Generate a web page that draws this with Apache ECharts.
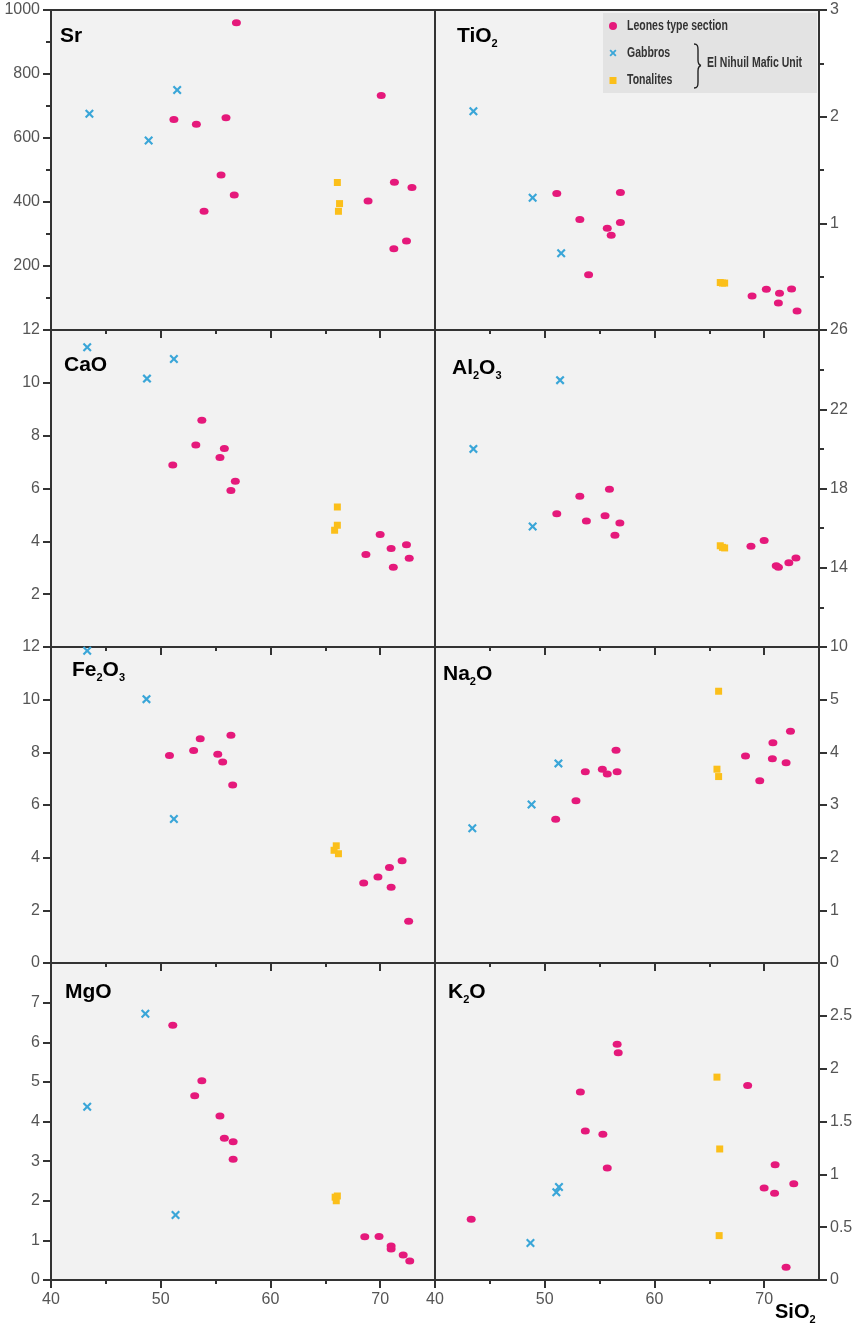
<!DOCTYPE html>
<html>
<head>
<meta charset="utf-8">
<title>Harker diagrams – Leones type section and El Nihuil Mafic Unit</title>
<script src="https://cdn.jsdelivr.net/npm/echarts@6/dist/echarts.min.js"></script>
<style>
  html, body { margin: 0; padding: 0; background: #ffffff; }
  #chart { width: 859px; height: 1329px; }
</style>
</head>
<body>
<div id="chart"></div>
<script>
// ---------------------------------------------------------------------------
// SiO2 (wt%) axis, shared by every panel
const sio2Major = [40, 50, 60, 70];
const sio2Minor = [45, 55, 65];
const sio2Labels = [40, 50, 60, 70];

// Series names
const groupNames = ['Leones type section', 'Gabbros', 'Tonalites'];
const groupCaption = 'El Nihuil Mafic Unit';

// --- Sr (ppm) ---------------------------------------------------------------
const srLeones = [[51.2, 658], [53.25, 643], [55.95, 663], [56.9, 960], [53.95, 371], [55.5, 484], [56.7, 422], [70.1, 733], [68.9, 403], [71.3, 462], [72.9, 445], [71.25, 254], [72.4, 278]];
const srGabbros = [[43.5, 676], [48.9, 592], [51.5, 750]];
const srTonalites = [[66.1, 461], [66.2, 371], [66.3, 395]];
const srTicks = [0, 200, 400, 600, 800, 1000];
const srMinorTicks = [100, 300, 500, 700, 900];
const srLabels = [200, 400, 600, 800, 1000];

// --- TiO2 (wt%) -------------------------------------------------------------
const tio2Leones = [[51.1, 1.28], [56.9, 1.29], [53.2, 1.035], [55.7, 0.953], [56.06, 0.889], [56.9, 1.007], [54.0, 0.517], [68.9, 0.319], [70.2, 0.382], [71.4, 0.344], [72.5, 0.385], [71.3, 0.253], [73.0, 0.177]];
const tio2Gabbros = [[43.5, 2.05], [48.9, 1.24], [51.5, 0.72]];
const tio2Tonalites = [[66.0, 0.445], [66.2, 0.44], [66.4, 0.44]];
const tio2Ticks = [0, 1, 2, 3];
const tio2MinorTicks = [0.5, 1.5, 2.5];
const tio2Labels = [1, 2, 3];

// --- CaO (wt%) --------------------------------------------------------------
const caoLeones = [[51.1, 6.89], [53.2, 7.65], [53.75, 8.58], [55.4, 7.17], [55.8, 7.51], [56.4, 5.92], [56.8, 6.27], [68.7, 3.50], [70.0, 4.26], [71.0, 3.73], [71.2, 3.02], [72.4, 3.87], [72.65, 3.36]];
const caoGabbros = [[43.3, 11.35], [48.75, 10.16], [51.2, 10.9]];
const caoTonalites = [[66.1, 5.30], [66.1, 4.61], [65.85, 4.42]];
const caoTicks = [0, 2, 4, 6, 8, 10, 12];
const caoLabels = [2, 4, 6, 8, 10, 12];

// --- Al2O3 (wt%) ------------------------------------------------------------
const al2o3Leones = [[51.1, 16.72], [53.2, 17.61], [53.8, 16.36], [55.9, 17.96], [55.5, 16.63], [56.85, 16.26], [56.4, 15.64], [68.8, 15.08], [70.0, 15.37], [71.1, 14.10], [71.3, 14.03], [72.25, 14.25], [72.9, 14.49]];
const al2o3Gabbros = [[51.4, 23.47], [43.5, 20.0], [48.9, 16.08]];
const al2o3Tonalites = [[66.0, 15.11], [66.4, 15.0], [66.2, 15.03]];
const al2o3Ticks = [10, 14, 18, 22, 26];
const al2o3MinorTicks = [12, 16, 20, 24];
const al2o3Labels = [10, 14, 18, 22, 26];

// --- Fe2O3 (wt%) ------------------------------------------------------------
const fe2o3Leones = [[50.8, 7.88], [53.0, 8.07], [53.6, 8.52], [55.2, 7.93], [55.65, 7.63], [56.4, 8.65], [56.56, 6.76], [68.5, 3.04], [69.8, 3.27], [70.85, 3.63], [71.0, 2.88], [72.0, 3.88], [72.6, 1.59]];
const fe2o3Gabbros = [[43.3, 11.86], [48.7, 10.02], [51.2, 5.47]];
const fe2o3Tonalites = [[66.0, 4.45], [66.2, 4.15], [65.8, 4.28]];
const fe2o3Ticks = [0, 2, 4, 6, 8, 10, 12];
const fe2o3Labels = [0, 2, 4, 6, 8, 10, 12];

// --- Na2O (wt%) -------------------------------------------------------------
const na2oLeones = [[51.0, 2.73], [52.85, 3.08], [53.7, 3.63], [55.25, 3.68], [55.7, 3.59], [56.5, 4.04], [56.6, 3.63], [68.3, 3.93], [69.6, 3.46], [70.8, 4.18], [70.75, 3.88], [72.0, 3.80], [72.4, 4.40]];
const na2oGabbros = [[43.4, 2.56], [48.8, 3.01], [51.25, 3.79]];
const na2oTonalites = [[65.85, 5.16], [65.7, 3.68], [65.85, 3.54]];
const na2oTicks = [0, 1, 2, 3, 4, 5, 6];
const na2oLabels = [0, 1, 2, 3, 4, 5];

// --- MgO (wt%) --------------------------------------------------------------
const mgoLeones = [[51.1, 6.43], [53.75, 5.03], [53.1, 4.65], [55.4, 4.14], [55.8, 3.58], [56.6, 3.49], [56.6, 3.05], [68.6, 1.09], [69.9, 1.10], [71.0, 0.86], [71.0, 0.78], [72.1, 0.63], [72.7, 0.48]];
const mgoGabbros = [[48.6, 6.72], [43.3, 4.37], [51.35, 1.64]];
const mgoTonalites = [[65.9, 2.09], [66.1, 2.12], [66.0, 2.0]];
const mgoTicks = [0, 1, 2, 3, 4, 5, 6, 7, 8];
const mgoLabels = [0, 1, 2, 3, 4, 5, 6, 7];

// --- K2O (wt%) --------------------------------------------------------------
const k2oLeones = [[43.3, 0.575], [53.25, 1.78], [53.7, 1.41], [55.3, 1.38], [55.7, 1.06], [56.6, 2.23], [56.7, 2.15], [68.5, 1.84], [70.0, 0.87], [71.0, 1.09], [70.95, 0.82], [72.7, 0.91], [72.0, 0.12]];
const k2oGabbros = [[48.7, 0.35], [51.06, 0.83], [51.3, 0.88]];
const k2oTonalites = [[65.7, 1.92], [65.95, 1.24], [65.9, 0.42]];
const k2oTicks = [0, 0.5, 1, 1.5, 2, 2.5, 3];
const k2oLabels = [0, 0.5, 1, 1.5, 2, 2.5];

// ---------------------------------------------------------------------------
// Panel layout: two columns, four rows
const panels = [
  { title: '{a|Sr}',                 col: 0, row: 0, min: 0,  max: 1000, ticks: srTicks,    minor: srMinorTicks,    labels: srLabels,    sets: [srLeones, srGabbros, srTonalites],          tx: 60,  ty: 36 },
  { title: '{a|TiO}{s|2}',           col: 1, row: 0, min: 0,  max: 3,    ticks: tio2Ticks,  minor: tio2MinorTicks,  labels: tio2Labels,  sets: [tio2Leones, tio2Gabbros, tio2Tonalites],    tx: 457, ty: 36 },
  { title: '{a|CaO}',                col: 0, row: 1, min: 0,  max: 12,   ticks: caoTicks,   minor: [],              labels: caoLabels,   sets: [caoLeones, caoGabbros, caoTonalites],       tx: 64,  ty: 365 },
  { title: '{a|Al}{s|2}{a|O}{s|3}',  col: 1, row: 1, min: 10, max: 26,   ticks: al2o3Ticks, minor: al2o3MinorTicks, labels: al2o3Labels, sets: [al2o3Leones, al2o3Gabbros, al2o3Tonalites], tx: 452, ty: 368 },
  { title: '{a|Fe}{s|2}{a|O}{s|3}',  col: 0, row: 2, min: 0,  max: 12,   ticks: fe2o3Ticks, minor: [],              labels: fe2o3Labels, sets: [fe2o3Leones, fe2o3Gabbros, fe2o3Tonalites], tx: 72,  ty: 670 },
  { title: '{a|Na}{s|2}{a|O}',       col: 1, row: 2, min: 0,  max: 6,    ticks: na2oTicks,  minor: [],              labels: na2oLabels,  sets: [na2oLeones, na2oGabbros, na2oTonalites],    tx: 443, ty: 674 },
  { title: '{a|MgO}',                col: 0, row: 3, min: 0,  max: 8,    ticks: mgoTicks,   minor: [],              labels: mgoLabels,   sets: [mgoLeones, mgoGabbros, mgoTonalites],       tx: 65,  ty: 992 },
  { title: '{a|K}{s|2}{a|O}',        col: 1, row: 3, min: 0,  max: 3,    ticks: k2oTicks,   minor: [],              labels: k2oLabels,   sets: [k2oLeones, k2oGabbros, k2oTonalites],       tx: 448, ty: 992 }
];

const COL_LEFT = [51, 435];
const COL_WIDTH = 384;
const ROW_TOP = [10, 330, 647, 963];
const ROW_HEIGHT = [320, 317, 316, 317];

const FONT = "'Liberation Sans', Arial, Helvetica, sans-serif";
const AXIS_COLOR = '#333333';
const LABEL_COLOR = '#555555';
const COLORS = ['#e5197b', '#3aa6d8', '#fbbf1a'];

// Marker shapes: flattened dot, St Andrew's cross, square
const ELLIPSE = 'path://M0,5A7,5 0 1,1 14,5A7,5 0 1,1 0,5Z';
const CROSS = 'path://M0,1.7L1.7,0L5,3.3L8.3,0L10,1.7L6.7,5L10,8.3L8.3,10L5,6.7L1.7,10L0,8.3L3.3,5Z';
const groupStyle = [
  { symbol: ELLIPSE, size: [9, 7] },
  { symbol: CROSS,   size: [9, 9] },
  { symbol: 'rect',  size: [7, 7] }
];

const titleRich = {
  a: { fontFamily: FONT, fontWeight: 'bold', fontSize: 21, color: '#2b2b2b', lineHeight: 28, verticalAlign: 'middle' },
  s: { fontFamily: FONT, fontWeight: 'bold', fontSize: 11, color: '#2b2b2b', lineHeight: 28, verticalAlign: 'bottom', padding: [0, 0, 1, 0] }
};
const plainNumber = function (v) { return String(v); };

const grid = [], xAxis = [], yAxis = [], series = [], graphic = [];

panels.forEach(function (p, i) {
  const bottomRow = p.row === 3;
  grid.push({
    left: COL_LEFT[p.col], top: ROW_TOP[p.row], width: COL_WIDTH, height: ROW_HEIGHT[p.row],
    show: true, backgroundColor: '#f2f2f2', borderColor: AXIS_COLOR, borderWidth: 2, containLabel: false
  });

  // SiO2 axis carrying the data, minor ticks and the labels
  xAxis.push({
    type: 'value', gridIndex: i, min: 40, max: 75, position: 'bottom',
    axisLine: { show: false }, splitLine: { show: false },
    axisTick: { show: true, inside: false, length: 4, customValues: sio2Minor, lineStyle: { color: AXIS_COLOR, width: 2 } },
    axisLabel: { show: bottomRow, customValues: sio2Labels, formatter: plainNumber, margin: 12, fontFamily: FONT, fontSize: 16, color: LABEL_COLOR }
  });
  // major ticks every 10 wt%
  xAxis.push({
    type: 'value', gridIndex: i, min: 40, max: 75, position: 'bottom',
    axisLine: { show: false }, splitLine: { show: false },
    axisTick: { show: true, inside: false, length: 8, customValues: sio2Major, lineStyle: { color: AXIS_COLOR, width: 2 } },
    axisLabel: { show: false }
  });

  const side = p.col === 0 ? 'left' : 'right';
  yAxis.push({
    type: 'value', gridIndex: i, min: p.min, max: p.max, position: side,
    axisLine: { show: false }, splitLine: { show: false },
    axisTick: { show: true, inside: false, length: 8, customValues: p.ticks, lineStyle: { color: AXIS_COLOR, width: 2 } },
    axisLabel: { show: true, customValues: p.labels, formatter: plainNumber, margin: 11, fontFamily: FONT, fontSize: 16, color: LABEL_COLOR }
  });
  yAxis.push({
    type: 'value', gridIndex: i, min: p.min, max: p.max, position: side,
    axisLine: { show: false }, splitLine: { show: false },
    axisTick: { show: p.minor.length > 0, inside: false, length: 5, customValues: p.minor.length ? p.minor : [p.min], lineStyle: { color: AXIS_COLOR, width: 2 } },
    axisLabel: { show: false }
  });

  p.sets.forEach(function (data, g) {
    series.push({
      type: 'scatter', name: groupNames[g],
      xAxisIndex: 2 * i, yAxisIndex: 2 * i,
      symbol: groupStyle[g].symbol, symbolSize: groupStyle[g].size,
      itemStyle: { color: COLORS[g], opacity: 1 },
      data: data, z: 3 + (g === 0 ? 1 : 0)
    });
  });

  graphic.push({
    type: 'text', x: p.tx, y: p.ty, z: 100,
    style: { text: p.title, rich: titleRich, verticalAlign: 'middle', align: 'left' }
  });
});

// ---------------------------------------------------------------------------
// Key (top right of the TiO2 panel)
graphic.push({
  type: 'rect', z: 1, shape: { x: 603, y: 13, width: 214, height: 80 },
  style: { fill: '#e3e3e3' }
});
const keyRows = [26, 53, 80.5];
const keyTextStyle = { fontFamily: FONT, fontWeight: 'bold', fontSize: 14, fill: '#333333', verticalAlign: 'middle', align: 'left' };
graphic.push({ type: 'circle', z: 100, shape: { cx: 613, cy: keyRows[0], r: 4 }, style: { fill: COLORS[0] } });
graphic.push({
  type: 'polygon', z: 100,
  shape: { points: [[-3.5, -2.2], [-2.2, -3.5], [0, -1.3], [2.2, -3.5], [3.5, -2.2], [1.3, 0], [3.5, 2.2], [2.2, 3.5], [0, 1.3], [-2.2, 3.5], [-3.5, 2.2], [-1.3, 0]]
    .map(function (q) { return [613 + q[0], keyRows[1] + q[1]]; }) },
  style: { fill: COLORS[1] }
});
graphic.push({ type: 'rect', z: 100, shape: { x: 609.5, y: keyRows[2] - 3.5, width: 7, height: 7 }, style: { fill: COLORS[2] } });
groupNames.forEach(function (name, k) {
  graphic.push({ type: 'text', x: 627, y: keyRows[k], scaleX: 0.75, z: 100, style: Object.assign({ text: name }, keyTextStyle) });
});
// Curly bracket grouping Gabbros and Tonalites
const braceStyle = { fill: 'none', stroke: '#222222', lineWidth: 1.4 };
[
  { x1: 694, y1: 44, cpx1: 697.5, cpy1: 44, cpx2: 698, cpy2: 46, x2: 698, y2: 50 },
  { x1: 698, y1: 60, cpx1: 698, cpy1: 63.5, cpx2: 699, cpy2: 65, x2: 701, y2: 65.5 },
  { x1: 701, y1: 65.5, cpx1: 699, cpy1: 66, cpx2: 698, cpy2: 67.5, x2: 698, y2: 71 },
  { x1: 698, y1: 82, cpx1: 698, cpy1: 86, cpx2: 697.5, cpy2: 88, x2: 694, y2: 88 }
].forEach(function (s) {
  graphic.push({ type: 'bezierCurve', z: 100, shape: s, style: braceStyle });
});
graphic.push({ type: 'line', z: 100, shape: { x1: 698, y1: 50, x2: 698, y2: 60 }, style: braceStyle });
graphic.push({ type: 'line', z: 100, shape: { x1: 698, y1: 71, x2: 698, y2: 82 }, style: braceStyle });
graphic.push({ type: 'text', x: 707, y: 63, scaleX: 0.75, z: 100, style: Object.assign({ text: groupCaption }, keyTextStyle) });

// SiO2 axis name
graphic.push({
  type: 'text', x: 775, y: 1312, z: 100,
  style: {
    text: '{a|SiO}{s|2}', verticalAlign: 'middle', align: 'left',
    rich: {
      a: { fontFamily: FONT, fontWeight: 'bold', fontSize: 20, color: '#2b2b2b', lineHeight: 26, verticalAlign: 'middle' },
      s: { fontFamily: FONT, fontWeight: 'bold', fontSize: 11, color: '#2b2b2b', lineHeight: 26, verticalAlign: 'bottom' }
    }
  }
});

const option = {
  backgroundColor: '#ffffff',
  animation: false,
  grid: grid,
  xAxis: xAxis,
  yAxis: yAxis,
  series: series,
  graphic: graphic
};

const chart = echarts.init(document.getElementById('chart'), null, { renderer: 'canvas' });
chart.setOption(option);
</script>
</body>
</html>
